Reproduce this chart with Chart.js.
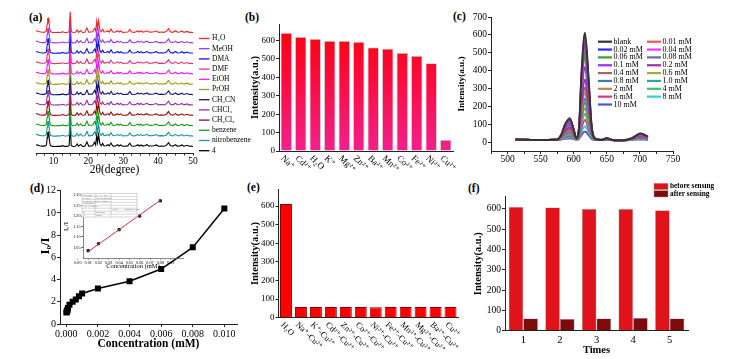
<!DOCTYPE html>
<html><head><meta charset="utf-8">
<script src="https://cdn.jsdelivr.net/npm/chart.js@4.4.1/dist/chart.umd.min.js"></script>
<style>
html,body{margin:0;padding:0;background:#fff;width:748px;height:359px;overflow:hidden;position:relative;}
canvas{position:absolute;}
.pl{position:absolute;font:bold 11.5px "Liberation Serif",serif;color:#000;line-height:1;}
</style></head><body>
<div class="pl" style="left:29px;top:12px">(a)</div>
<div class="pl" style="left:245px;top:12px">(b)</div>
<div class="pl" style="left:453px;top:11px">(c)</div>
<div class="pl" style="left:30px;top:183px">(d)</div>
<div class="pl" style="left:247px;top:182px">(e)</div>
<div class="pl" style="left:468px;top:183px">(f)</div>
<canvas id="ca"></canvas><canvas id="cb"></canvas><canvas id="cc"></canvas>
<canvas id="cd"></canvas><canvas id="cdi"></canvas><canvas id="ce"></canvas><canvas id="cf"></canvas>
<script>
// ---------------- DATA ----------------
// (a) PXRD pattern (2theta, relative intensity)
const xrdPattern = [[5.0,0.22],[5.5,0.18],[6.0,0.12],[6.8,0.08],[7.5,0.08],[8.0,0.2],[8.2,0.9],[8.35,1.45],[8.5,1.05],[8.65,1.5],[8.85,0.6],[9.1,0.15],[9.6,0.06],[10.5,0.05],[11.3,0.07],[12.0,0.06],[12.6,0.13],[13.2,0.06],[14.0,0.06],[14.5,0.15],[14.8,2.05],[15.1,0.15],[15.6,0.05],[16.3,0.07],[16.8,0.3],[17.2,0.07],[17.8,0.25],[18.3,0.06],[19.0,0.08],[19.6,0.5],[20.1,0.08],[20.7,0.1],[21.2,0.12],[21.8,0.45],[22.1,0.2],[22.4,1.15],[22.65,0.45],[22.95,1.2],[23.3,0.3],[23.7,0.12],[24.1,0.35],[24.5,0.1],[25.1,0.12],[25.6,0.22],[26.0,0.1],[26.5,0.38],[27.0,0.1],[27.6,0.08],[28.4,0.22],[28.8,0.1],[29.3,0.2],[29.8,0.07],[30.6,0.08],[31.3,0.1],[31.9,0.36],[32.4,0.1],[33.1,0.07],[33.7,0.12],[34.2,0.22],[34.6,0.1],[35.1,0.2],[35.6,0.09],[36.3,0.15],[36.8,0.22],[37.3,0.1],[38.0,0.09],[38.7,0.12],[39.5,0.2],[40.1,0.07],[40.9,0.1],[41.6,0.07],[42.3,0.14],[43.0,0.42],[43.5,0.13],[44.2,0.07],[45.0,0.22],[45.5,0.08],[46.2,0.1],[46.8,0.2],[47.4,0.07],[48.3,0.16],[48.9,0.07],[49.5,0.08],[50.0,0.05]];
const xrdSamples = ["H\u2082O","MeOH","DMA","DMF","EtOH","PrOH","CH\u2083CN","CHCl\u2083","CH\u2082Cl\u2082","benzene","nitrobenzene","4"];
const xrdOffsets = [11,10,9,8,7,6,5,4,3,2,1,0];
const xrdTicks = [5,7.5,10,12.5,15,17.5,20,22.5,25,27.5,30,32.5,35,37.5,40,42.5,45,47.5,50];

// (b) intensity with different ions
const ionLabels = ["Na\u207A","Cd\u00B2\u207A","H\u2082O","K\u207A","Mg\u00B2\u207A","Zn\u00B2\u207A","Ba\u00B2\u207A","Mn\u00B2\u207A","Co\u00B2\u207A","Fe\u00B2\u207A","Ni\u00B2\u207A","Cu\u00B2\u207A"];
const ionIntensity = [642,620,609,598,598,593,562,556,533,516,477,60];
const intensityTicks = [0,100,200,300,400,500,600];

// (c) emission spectra vs Cu2+ concentration
const wavelengths = [512,545,574,581,587,594,600,604,608,612,617,622,627,633,642,650,658,675,688,695,701,707,712];
const concLabels = ["blank","0.01 mM","0.02 mM","0.04 mM","0.06 mM","0.08 mM","0.1 mM","0.2 mM","0.4 mM","0.6 mM","0.8 mM","1.0 mM","2 mM","4 mM","6 mM","8 mM","10 mM"];
const spBlank = [14,12,13,40,100,134,70,22,80,400,612,380,90,18,12,22,12,10,22,38,48,40,30];
const sp001 = [14,12,13,39,97,129,68,22,77,386,590,366,87,18,12,22,12,10,22,37,47,39,29];
const sp002 = [14,12,13,38,93,124,65,21,75,370,565,351,84,18,12,21,12,10,21,36,45,38,29];
const sp004 = [14,12,13,37,89,119,63,21,72,353,540,336,81,17,12,21,12,10,21,35,44,37,28];
const sp006 = [14,12,13,35,84,112,60,20,68,331,505,315,76,17,12,20,12,10,20,33,42,35,27];
const sp008 = [14,12,13,34,81,107,57,20,65,315,480,299,73,17,12,20,12,10,20,32,40,34,26];
const sp01  = [14,12,13,31,72,95,51,19,58,276,420,262,65,16,12,19,12,10,19,30,37,31,24];
const sp02  = [14,12,13,28,62,81,45,18,50,230,350,219,56,15,12,18,12,10,18,27,32,28,22];
const sp04  = [14,12,13,26,55,72,40,17,45,201,305,192,50,15,12,17,12,10,17,25,30,26,21];
const sp06  = [14,12,13,24,51,66,38,16,42,183,277,175,46,15,12,16,12,10,16,23,28,24,20];
const sp08  = [14,12,13,23,46,59,34,16,38,162,244,154,42,14,12,16,12,10,16,22,26,23,19];
const sp10  = [14,12,13,22,43,55,32,16,36,148,222,141,39,14,12,16,12,10,16,21,25,22,18];
const sp2   = [14,12,13,20,38,48,29,15,32,127,190,121,35,14,12,15,12,10,15,20,23,20,17];
const sp4   = [14,12,13,19,33,42,26,14,29,106,158,101,31,13,12,14,12,10,14,18,21,19,16];
const sp6   = [14,12,13,17,28,35,23,14,25,84,123,80,26,13,12,14,12,10,14,17,19,17,15];
const sp8   = [14,12,13,16,23,28,19,13,21,61,88,59,22,13,12,13,12,10,13,15,17,16,14];
const sp10m = [14,12,13,14,19,22,17,13,17,42,59,41,18,12,12,13,12,10,13,14,15,14,13];
const spectra = [spBlank,sp001,sp002,sp004,sp006,sp008,sp01,sp02,sp04,sp06,sp08,sp10,sp2,sp4,sp6,sp8,sp10m];
const waveTicks = [475,500,525,550,575,600,625,650,675,700,725,750];
const specTicks = [0,100,200,300,400,500,600,700];

// (d) Stern-Volmer plot
const concD  = [0.00001,0.00002,0.00004,0.00006,0.00008,0.0001,0.0002,0.0004,0.0006,0.0008,0.001,0.002,0.004,0.006,0.008,0.010];
const ratioD = [1.03,1.08,1.13,1.21,1.27,1.45,1.74,2.0,2.2,2.5,2.75,3.2,3.85,4.95,6.9,10.4];
const concDTicks = [0,0.002,0.004,0.006,0.008,0.010];
const ratioDTicks = [0,2,4,6,8,10,12];
// inset
const concInset  = [0.01,0.02,0.04,0.06,0.08];
const ratioInset = [1.035,1.068,1.135,1.2,1.272];
const fitX = [0.01,0.08];
const fitY = [1.03,1.275];
const insetXTicks = [0.00,0.01,0.02,0.03,0.04,0.05,0.06,0.07,0.08,0.09];
const insetYTicks = [1.05,1.10,1.15,1.20,1.25,1.30];

// (e) competition experiment
const mixLabels = ["H\u2082O","Na\u207A-Cu\u00B2\u207A","K\u207A-Cu\u00B2\u207A","Cd\u00B2\u207A-Cu\u00B2\u207A","Zn\u00B2\u207A-Cu\u00B2\u207A","Co\u00B2\u207A-Cu\u00B2\u207A","Ni\u00B2\u207A-Cu\u00B2\u207A","Fe\u00B2\u207A-Cu\u00B2\u207A","Mn\u00B2\u207A-Cu\u00B2\u207A","Mg\u00B2\u207A-Cu\u00B2\u207A","Ba\u00B2\u207A-Cu\u00B2\u207A","Cu\u00B2\u207A"];
const mixIntensity = [611,58,58,58,58,58,56,58,58,58,58,58];

// (f) recycling
const cycles = ["1","2","3","4","5"];
const beforeSensing = [610,607,600,600,593];
const afterSensing  = [60,58,60,63,60];

// ---------------- STYLES ----------------
const SERIF = '"Liberation Serif","Times New Roman","DejaVu Serif",serif';
Chart.defaults.font.family = SERIF;
Chart.defaults.color = '#000';
const xrdColors = ['#ff1f1f','#9a33ff','#1010ff','#e8307a','#ff10ff','#9c9c10','#101080','#9a2aa0','#9a0c0c','#10a010','#109a9a','#000000'];
const specColors = ['#333333','#ee5555','#2828ff','#ff30ff','#30a030','#6868a8','#9a30ff','#a030a0','#b06060','#a8a838','#4478b0','#30a0a0','#c08848','#40c070','#e03080','#30d0d0','#5050d0'];

function place(id, rect, area){
  const c = document.getElementById(id);
  c.style.left = rect[0]+'px'; c.style.top = rect[1]+'px';
  c.width = rect[2]; c.height = rect[3];
  c.style.width = rect[2]+'px'; c.style.height = rect[3]+'px';
  return {c, rx:rect[0], ry:rect[1],
    pad:{left:0, top:area[1]-rect[1], right:rect[0]+rect[2]-area[2], bottom:0},
    yw:area[0]-rect[0], xh:rect[1]+rect[3]-area[3]};
}
function baseOpts(g){
  return {responsive:false, animation:false, devicePixelRatio:1,
    layout:{padding:g.pad},
    plugins:{legend:{display:false}, tooltip:{enabled:false}}};
}
function linAxis(g, axis, min, max, vals, fmt, fs, extra){
  const o = {type:'linear', min, max,
    afterBuildTicks:s=>{ s.ticks = vals.map(v=>({value:v})); },
    border:{display:true, color:'#222', width:1},
    grid:{display:true, drawOnChartArea:false, drawTicks:true, tickLength:3, color:'#222'},
    ticks:{font:{size:fs}, color:'#000', padding:1, autoSkip:false, maxRotation:0, callback:fmt}};
  if (axis==='y') o.afterFit = s=>{ s.width = g.yw; };
  else o.afterFit = s=>{ s.height = g.xh; };
  return Object.assign(o, extra||{});
}
function yTitle(text, size){
  return {display:true, text, font:{size, weight:'bold'}, color:'#000', padding:0};
}
// rotated category labels
const rotLabels = {id:'rotLabels', afterDraw(chart, args, o){
  if (!o || !o.on) return;
  const ctx = chart.ctx, xs = chart.scales.x;
  ctx.save(); ctx.font = o.font; ctx.fillStyle = '#000'; ctx.textAlign = 'left'; ctx.textBaseline = 'middle';
  chart.data.labels.forEach((lab,i)=>{
    const px = xs.getPixelForValue(i);
    ctx.save(); ctx.translate(px+o.dx, xs.top+o.dy); ctx.rotate(o.angle*Math.PI/180);
    ctx.fillText(lab,0,0); ctx.restore();
  });
  ctx.restore();
}};
const freeText = {id:'freeText', afterDraw(chart, args, o){
  if (!o || !o.items) return;
  const ctx = chart.ctx;
  o.items.forEach(it=>{
    ctx.save(); ctx.font = it.font; ctx.fillStyle = it.color||'#000';
    ctx.textAlign = it.align||'center'; ctx.textBaseline = 'middle';
    ctx.translate(it.x, it.y); if (it.rot) ctx.rotate(it.rot*Math.PI/180);
    ctx.fillText(it.text,0,0); ctx.restore();
  });
}};

// ---------------- (a) ----------------
(function(){
  const g = place('ca',[0,0,262,177],[36,8,193,153]);
  const datasets = xrdSamples.map((name,i)=>({
    label:name, borderColor:xrdColors[i], borderWidth:1.1, pointRadius:0, tension:0,
    data: xrdPattern.map(p=>({x:p[0], y:p[1]+xrdOffsets[i]}))
  }));
  const legendA = {id:'legendA', afterDraw(chart){
    const ctx = chart.ctx; ctx.save(); ctx.font = '7.5px '+SERIF; ctx.textBaseline='middle'; ctx.textAlign='left';
    chart.data.datasets.forEach((d,i)=>{
      const y = 38.5 + i*10.2;
      ctx.strokeStyle = d.borderColor; ctx.lineWidth = 1.3;
      ctx.beginPath(); ctx.moveTo(199,y); ctx.lineTo(209.5,y); ctx.stroke();
      ctx.fillStyle = '#000'; ctx.fillText(d.label, 212, y);
    });
    ctx.restore();
  }};
  const opts = baseOpts(g);
  opts.scales = {
    x: linAxis(g,'x',5,50,xrdTicks,v=>(v%10===0?String(v):''),9.5,{
      grid:{display:true, drawOnChartArea:false, drawTicks:true, tickLength:2.5, color:'#222'},
      title:{display:true,text:'2\u03B8(degree)',font:{size:11.5},color:'#000',padding:0}}),
    y: {type:'linear', min:-0.58, max:13.42, afterFit:s=>{s.width=g.yw;},
        border:{display:false}, grid:{display:false}, ticks:{display:false}}
  };
  opts.scales.x.ticks.padding = 0;
  new Chart(g.c,{type:'line', data:{datasets}, options:opts, plugins:[legendA]});
})();

// ---------------- (b) ----------------
(function(){
  const g = place('cb',[249,0,210,185],[279,24,453,151]);
  const opts = baseOpts(g);
  opts.scales = {
    x:{type:'category', afterFit:s=>{s.height=g.xh;}, border:{display:true,color:'#222'}, grid:{display:false}, ticks:{display:false}},
    y: linAxis(g,'y',0,690,intensityTicks,v=>String(v),9,{title:yTitle('Intensity(a.u.)',10.5)})
  };
  opts.plugins.rotLabels = {on:true, font:'9px '+SERIF, dx:-4, dy:6, angle:45};
  new Chart(g.c,{type:'bar', data:{labels:ionLabels, datasets:[{
    data:ionIntensity, barPercentage:0.78, categoryPercentage:1,
    borderColor:'rgba(190,190,190,0.9)', borderWidth:0.8,
    backgroundColor:(c)=>{ const a=c.chart.chartArea; if(!a) return '#ff1040';
      const gr=c.chart.ctx.createLinearGradient(0,a.top,0,a.bottom);
      gr.addColorStop(0,'#ff0008'); gr.addColorStop(0.45,'#fb0c40'); gr.addColorStop(1,'#f2208e'); return gr; }
  }]}, options:opts, plugins:[rotLabels]});
})();

// ---------------- (c) ----------------
(function(){
  const g = place('cc',[456,0,292,175],[491,17,673,151]);
  const datasets = concLabels.map((name,i)=>({
    label:name, borderColor:specColors[i], borderWidth:2, pointRadius:0, cubicInterpolationMode:'monotone',
    data: wavelengths.map((w,j)=>({x:w, y:spectra[i][j]}))
  }));
  const legendC = {id:'legendC', afterDraw(chart){
    const ctx = chart.ctx; ctx.save(); ctx.font = '8px '+SERIF; ctx.textBaseline='middle'; ctx.textAlign='left';
    chart.data.datasets.forEach((d,i)=>{
      const col = i%2, row = Math.floor(i/2);
      const x0 = (col===0 ? 598 : 647) - g.rx, y = 41.7 + row*7.85 - g.ry;
      ctx.strokeStyle = d.borderColor; ctx.lineWidth = 2.2;
      ctx.beginPath(); ctx.moveTo(x0,y); ctx.lineTo(x0+14,y); ctx.stroke();
      ctx.fillStyle = '#000'; ctx.fillText(d.label, x0+15.5, y);
    });
    ctx.restore();
  }};
  const opts = baseOpts(g);
  opts.scales = {
    x: linAxis(g,'x',475,750,waveTicks,v=>(v%50===0?String(v):''),9.5),
    y: linAxis(g,'y',-50,700,specTicks,v=>String(v),9.5,{title:yTitle('Intensity(a.u.)',9.2)})
  };
  opts.scales.x.ticks.padding = 0;
  new Chart(g.c,{type:'line', data:{datasets}, options:opts, plugins:[legendC]});
})();

// ---------------- (d) ----------------
(function(){
  const g = place('cd',[20,183,230,168],[60,190.7,237,324]);
  const opts = baseOpts(g);
  opts.scales = {
    x: linAxis(g,'x',-0.0004,0.0108,concDTicks,v=>v.toFixed(3),10,{
      title:{display:true,text:'Concentration (mM)',font:{size:11.5,weight:'bold'},color:'#000',padding:0}}),
    y: linAxis(g,'y',0,12,ratioDTicks,v=>String(v),10)
  };
  opts.plugins.freeText = {items:[{text:'I\u2080/I', font:'bold 12.5px '+SERIF, x:46-g.rx, y:246-g.ry, rot:-90}]};
  new Chart(g.c,{type:'line', data:{datasets:[{
    data: concD.map((x,i)=>({x, y:ratioD[i]})), borderColor:'#000', borderWidth:1.5,
    pointStyle:'rect', pointRadius:3.2, pointBackgroundColor:'#000', pointBorderColor:'#000', tension:0
  }]}, options:opts, plugins:[freeText]});
})();

// inset
(function(){
  const g = place('cdi',[62,190,126,80],[83,193,185,258]);
  const table = {id:'table', afterDraw(chart){
    const ctx = chart.ctx; const x0=82-g.rx, y0=193.5-g.ry, w=55, h=23.5;
    ctx.save(); ctx.fillStyle='#fff'; ctx.fillRect(x0,y0,w,h);
    ctx.strokeStyle='#aaa'; ctx.lineWidth=0.5; ctx.strokeRect(x0,y0,w,h);
    const rows = [['Equation','y = a + b*x','',''],['Weight','No Weighting','',''],['Residual Sum of Squares','','',''],['Pearson\u2019s r','','',''],['Adj. R-Square','','',''],['','','Value','Standard Error'],['B','Intercept','',''],['B','Slope','','']];
    const rh = h/rows.length;
    ctx.font='2.6px '+SERIF; ctx.fillStyle='#666'; ctx.textBaseline='middle'; ctx.textAlign='left';
    rows.forEach((r,i)=>{
      const y = y0+rh*(i+0.5);
      ctx.fillText(r[0],x0+1,y); ctx.fillText(r[1],x0+14,y); ctx.fillText(r[2],x0+30,y); ctx.fillText(r[3],x0+42,y);
      if(i>0){ctx.beginPath(); ctx.moveTo(x0,y0+rh*i); ctx.lineTo(x0+w,y0+rh*i); ctx.stroke();}
    });
    ctx.beginPath(); ctx.moveTo(x0+13,y0); ctx.lineTo(x0+13,y0+h); ctx.moveTo(x0+29,y0); ctx.lineTo(x0+29,y0+h); ctx.stroke();
    ctx.restore();
  }};
  const opts = baseOpts(g);
  opts.scales = {
    x: linAxis(g,'x',0.005,0.102,insetXTicks,v=>v.toFixed(2),4.2,{
      grid:{display:true,drawOnChartArea:false,drawTicks:true,tickLength:1.5,color:'#444'},
      title:{display:true,text:'Concentration (mM)',font:{size:6.5},color:'#000',padding:0}}),
    y: linAxis(g,'y',1.0,1.3,insetYTicks,v=>v.toFixed(2),4.2,{
      grid:{display:true,drawOnChartArea:false,drawTicks:true,tickLength:1.5,color:'#444'},
      title:{display:true,text:'I\u2080/I',font:{size:7},color:'#000',padding:0}})
  };
  opts.scales.x.border = {display:true,color:'#555',width:0.7};
  opts.scales.y.border = {display:true,color:'#555',width:0.7};
  new Chart(g.c,{type:'line', data:{datasets:[
    {data: fitX.map((x,i)=>({x,y:fitY[i]})), borderColor:'#e03030', borderWidth:1, pointRadius:0},
    {data: concInset.map((x,i)=>({x,y:ratioInset[i]})), showLine:false, pointStyle:'rect', pointRadius:1.6, pointBackgroundColor:'#222', pointBorderColor:'#222'}
  ]}, options:opts, plugins:[table]});
})();

// ---------------- (e) ----------------
(function(){
  const g = place('ce',[249,183,212,176],[278.5,186.7,458,317.7]);
  const opts = baseOpts(g);
  opts.scales = {
    x:{type:'category', afterFit:s=>{s.height=g.xh;}, border:{display:true,color:'#222'}, grid:{display:false}, ticks:{display:false}},
    y: linAxis(g,'y',0,690,intensityTicks,v=>String(v),9,{title:yTitle('Intensity(a.u.)',10.5)})
  };
  opts.plugins.rotLabels = {on:true, font:'8.5px '+SERIF, dx:-4, dy:6, angle:45};
  new Chart(g.c,{type:'bar', data:{labels:mixLabels, datasets:[{
    data:mixIntensity, barPercentage:0.8, categoryPercentage:1,
    backgroundColor:'#ff0000', borderColor:'#8a0000', borderWidth:1
  }]}, options:opts, plugins:[rotLabels]});
})();

// ---------------- (f) ----------------
(function(){
  const g = place('cf',[472,183,276,174],[505,196.7,688,330.7]);
  const legendF = {id:'legendF', afterDraw(chart){
    const ctx = chart.ctx; ctx.save(); ctx.font='bold 7.3px '+SERIF; ctx.textBaseline='middle'; ctx.textAlign='left';
    chart.data.datasets.forEach((d,i)=>{
      const x0 = 654-g.rx, y0 = (i===0?183.3:190.7)-g.ry;
      ctx.fillStyle = d.backgroundColor; ctx.fillRect(x0,y0,14,6.3);
      ctx.strokeStyle='#999'; ctx.lineWidth=0.5; ctx.strokeRect(x0,y0,14,6.3);
      ctx.fillStyle='#000'; ctx.fillText(d.label, x0+16, y0+3.3);
    });
    ctx.restore();
  }};
  const opts = baseOpts(g);
  opts.scales = {
    x:{type:'category', afterFit:s=>{s.height=g.xh;}, border:{display:true,color:'#222'},
       grid:{display:false, drawTicks:false}, ticks:{font:{size:10.5}, color:'#000', padding:3},
       title:{display:true,text:'Times',font:{size:10.5,weight:'bold'},color:'#000',padding:0}},
    y: linAxis(g,'y',0,660,intensityTicks,v=>String(v),9.5,{title:yTitle('Intensity(a.u.)',10.5)})
  };
  new Chart(g.c,{type:'bar', data:{labels:cycles, datasets:[
    {label:'before sensing', data:beforeSensing, backgroundColor:'#e0121a', borderColor:'#a0a0a0', borderWidth:0.6, barPercentage:1, categoryPercentage:0.8},
    {label:'after sensing', data:afterSensing, backgroundColor:'#7e0b0b', borderColor:'#a0a0a0', borderWidth:0.6, barPercentage:1, categoryPercentage:0.8}
  ]}, options:opts, plugins:[legendF]});
})();
</script>
</body></html>
